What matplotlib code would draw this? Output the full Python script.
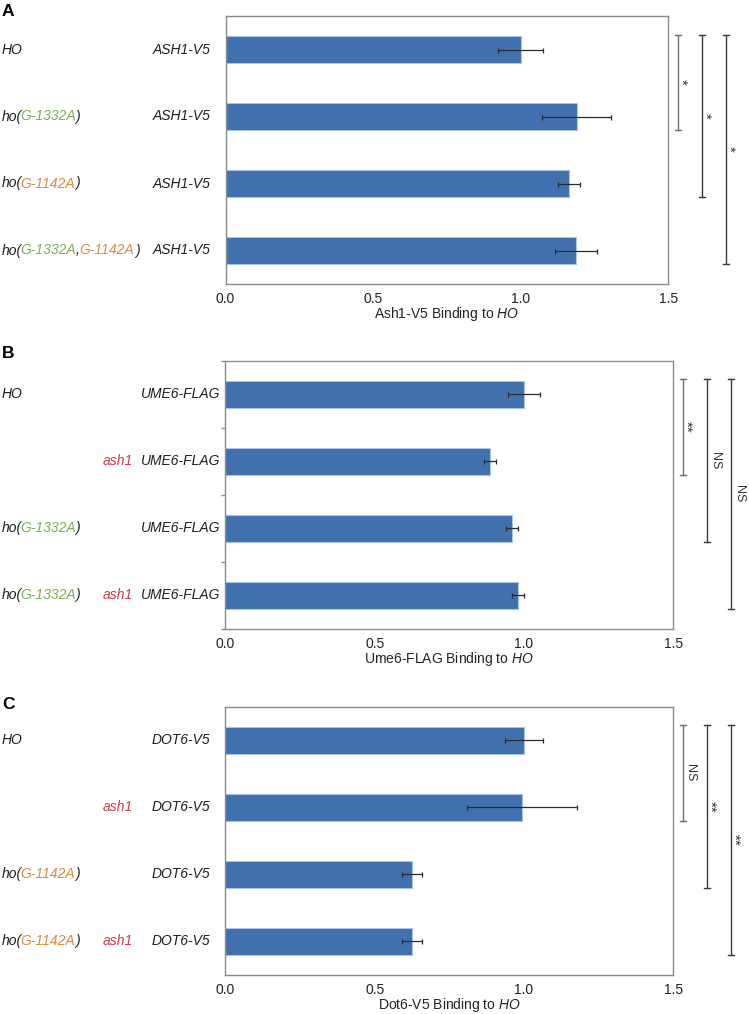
import numpy as np
import matplotlib
matplotlib.use("Agg")
import matplotlib.pyplot as plt
import matplotlib.transforms as mtransforms
from matplotlib.font_manager import FontProperties, findfont, get_font
from matplotlib.ft2font import LoadFlags

plt.rcParams.update({
    "font.family": ["Liberation Sans", "DejaVu Sans"],
    "mathtext.fontset": "custom",
    "mathtext.it": "Liberation Sans:italic",
    "mathtext.rm": "Liberation Sans",
    "font.size": 10,
})

# ---------------- data ----------------
GREEN = "#78b04f"
ORANGE = "#d58d3a"
RED = "#c63c4c"
BLACK = "#1e1e1e"

tick_values = [0.0, 0.5, 1.0, 1.5]
tick_labels = ["0.0", "0.5", "1.0", "1.5"]

# Panel A
a_values = [1.00, 1.19, 1.163, 1.187]
a_errors = [0.077, 0.117, 0.038, 0.072]
a_strain = [
    [("HO", BLACK)],
    [("ho(", BLACK), ("G-1332A", GREEN), (")", BLACK)],
    [("ho(", BLACK), ("G-1142A", ORANGE), (")", BLACK)],
    [("ho(", BLACK), ("G-1332A", GREEN), (",", BLACK), ("G-1142A", ORANGE), (")", BLACK)],
]
a_ash1 = [False, False, False, False]
a_tag = ["ASH1-V5"] * 4
a_xlabel = r"Ash1-V5 Binding to $\mathit{HO}$"
a_comparisons = [(0, 1, "*"), (0, 2, "*"), (0, 3, "*")]

# Panel B
b_values = [1.00, 0.887, 0.961, 0.981]
b_errors = [0.053, 0.020, 0.020, 0.020]
b_strain = [
    [("HO", BLACK)],
    [],
    [("ho(", BLACK), ("G-1332A", GREEN), (")", BLACK)],
    [("ho(", BLACK), ("G-1332A", GREEN), (")", BLACK)],
]
b_ash1 = [False, True, False, True]
b_tag = ["UME6-FLAG"] * 4
b_xlabel = r"Ume6-FLAG Binding to $\mathit{HO}$"
b_comparisons = [(0, 1, "**"), (0, 2, "NS"), (0, 3, "NS")]

# Panel C
c_values = [1.00, 0.994, 0.626, 0.626]
c_errors = [0.065, 0.185, 0.034, 0.034]
c_strain = [
    [("HO", BLACK)],
    [],
    [("ho(", BLACK), ("G-1142A", ORANGE), (")", BLACK)],
    [("ho(", BLACK), ("G-1142A", ORANGE), (")", BLACK)],
]
c_ash1 = [False, True, False, True]
c_tag = ["DOT6-V5"] * 4
c_xlabel = r"Dot6-V5 Binding to $\mathit{HO}$"
c_comparisons = [(0, 1, "NS"), (0, 2, "**"), (0, 3, "**")]

# ---------------- layout ----------------
W, H = 749, 1014
DPI = 100
fig = plt.figure(figsize=(W / DPI, H / DPI), dpi=DPI)

BAR = "#4170ae"
EDGE = "#a9c5e6"
SPINE = "#8c8c8c"

_fp = FontProperties(family="Liberation Sans", style="italic", size=10)
_font = get_font(findfont(_fp))


def advance(s, size=10):
    _font.set_size(size, DPI)
    tot = 0.0
    for ch in s:
        g = _font.load_char(ord(ch), flags=LoadFlags.NO_HINTING)
        tot += g.linearHoriAdvance / 65536.0
    return tot


def px_rect(l, t, r, b):
    return [l / W, 1 - b / H, (r - l) / W, (b - t) / H]


def rich_left(ax, xpx, ydata, pieces, fontsize=10, style="italic"):
    base = mtransforms.blended_transform_factory(fig.transFigure, ax.transData)
    prefix = ""
    for k, (s, c) in enumerate(pieces):
        off = advance(prefix, fontsize) - (2.0 if k > 0 else 0.0)
        tr = mtransforms.offset_copy(base, fig=fig, x=off, y=0, units="dots")
        ax.text(xpx / W, ydata, s, color=c, transform=tr, ha="left",
                va="center", fontsize=fontsize, style=style, clip_on=False)
        prefix += s


def plain(ax, xpx, ydata, s, color, ha, fontsize=10, style="italic"):
    base = mtransforms.blended_transform_factory(fig.transFigure, ax.transData)
    ax.text(xpx / W, ydata, s, color=color, transform=base, ha=ha,
            va="center", fontsize=fontsize, style=style, clip_on=False)


panels = [
    dict(letter="A", rect=(225.5, 16, 668.3, 284), letter_y=11,
         values=a_values, errors=a_errors, strain=a_strain, ash1=a_ash1,
         tag=a_tag, tag_right=210.7, xlabel=a_xlabel, comps=a_comparisons,
         yticks=False),
    dict(letter="B", rect=(225.3, 360.7, 673.3, 628.7), letter_y=353.5,
         values=b_values, errors=b_errors, strain=b_strain, ash1=b_ash1,
         tag=b_tag, tag_right=220.7, xlabel=b_xlabel, comps=b_comparisons,
         yticks=True),
    dict(letter="C", rect=(225.3, 706.7, 673.3, 974.7), letter_y=704.5,
         values=c_values, errors=c_errors, strain=c_strain, ash1=c_ash1,
         tag=c_tag, tag_right=210.7, xlabel=c_xlabel, comps=c_comparisons,
         yticks=False),
]

bracket_offsets = [9.5, 34.0, 58.0]
bracket_colors = ["#6e6e6e", "#3a3a3a", "#3a3a3a"]

for p in panels:
    l, t, r, b = p["rect"]
    ax = fig.add_axes(px_rect(l, t, r, b))
    y = np.arange(len(p["values"]))
    ax.barh(y, p["values"], height=0.4, color=BAR, edgecolor=EDGE, linewidth=0.8)
    ax.errorbar(p["values"], y, xerr=p["errors"], fmt="none", ecolor="#2b2b2b",
                elinewidth=0.9, capsize=1.8, capthick=0.9)
    ax.set_xlim(0, 1.5)
    ax.set_ylim(3.5, -0.5)
    ax.set_xticks(tick_values)
    ax.set_xticklabels(tick_labels)
    ax.tick_params(axis="x", length=0, pad=6, labelsize=10, labelcolor="#222222")
    if p["yticks"]:
        ax.set_yticks(np.arange(-0.5, 4.0, 1.0))
        ax.tick_params(axis="y", length=3, color=SPINE, width=1, labelleft=False)
    else:
        ax.set_yticks([])
    for s in ax.spines.values():
        s.set_color(SPINE)
        s.set_linewidth(1)
    ax.set_xlabel(p["xlabel"], fontsize=10, color="#222222", labelpad=-1.0)

    # panel letter
    fig.text(2 / W, 1 - p["letter_y"] / H, p["letter"], fontsize=12.5,
             fontweight="bold", ha="left", va="center")

    # row labels
    for i in range(len(p["values"])):
        if p["strain"][i]:
            rich_left(ax, 2, i, p["strain"][i])
        if p["ash1"][i]:
            plain(ax, 132.7, i, "ash1", RED, "right")
        plain(ax, p["tag_right"], i, p["tag"][i], BLACK, "right")

    # significance brackets
    blend = mtransforms.blended_transform_factory(fig.transFigure, ax.transData)
    for k, (i, j, lab) in enumerate(p["comps"]):
        xp = r + bracket_offsets[k]
        y0 = i - 0.22
        y1 = j + 0.2
        col = bracket_colors[k]
        ax.plot([xp / W, xp / W], [y0, y1], color=col, lw=1, transform=blend, clip_on=False)
        for yy in (y0, y1):
            ax.plot([(xp - 3) / W, (xp + 3) / W], [yy, yy], color=col, lw=1,
                    transform=blend, clip_on=False)
        if "*" in lab:
            fs, base_off = 11, -1.0
        else:
            fs, base_off = 9, 4.5
        ax.text((xp + base_off) / W, (y0 + y1) / 2, lab, rotation=-90,
                rotation_mode="anchor", ha="center", va="baseline",
                fontsize=fs, color="#333333", transform=blend, clip_on=False)

fig.savefig("out.png", dpi=DPI)
